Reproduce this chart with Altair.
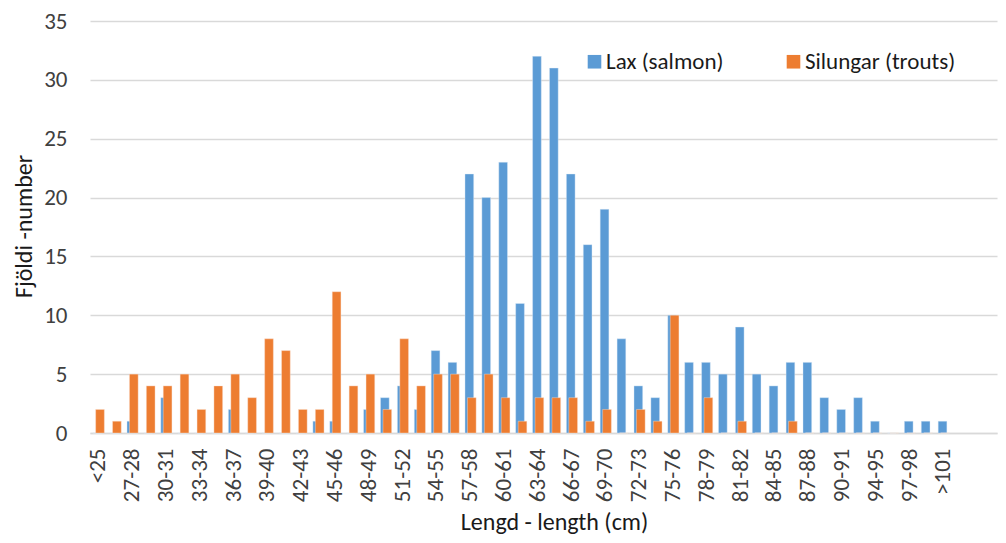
import altair as alt
import pandas as pd

categories = ["<25", "25-26", "27-28", "28-29", "30-31", "31-32", "33-34", "34-35",
              "36-37", "37-38", "39-40", "40-41", "42-43", "43-44", "45-46", "46-47",
              "48-49", "49-50", "51-52", "52-53", "54-55", "55-56", "57-58", "58-59",
              "60-61", "61-62", "63-64", "64-65", "66-67", "67-68", "69-70", "70-71",
              "72-73", "73-74", "75-76", "76-77", "78-79", "79-80", "81-82", "82-83",
              "84-85", "85-86", "87-88", "88-89", "90-91", "92-93", "94-95", "95-96",
              "97-98", "99-100", ">101"]
empty_slots = ["_e1", "_e2"]
shown_labels = categories[::2]

lax = [0, 0, 1, 0, 3, 0, 0, 0, 2, 0, 0, 0, 0, 1, 1, 0, 2, 3, 4, 2, 7, 6, 22, 20,
       23, 11, 32, 31, 22, 16, 19, 8, 4, 3, 10, 6, 6, 5, 9, 5, 4, 6, 6, 3, 2, 3,
       1, 0, 1, 1, 1]
silungar = [2, 1, 5, 4, 4, 5, 2, 4, 5, 3, 8, 7, 2, 2, 12, 4, 5, 2, 8, 4, 5, 5, 3, 5,
            3, 1, 3, 3, 3, 1, 2, 0, 2, 1, 10, 0, 3, 0, 1, 0, 0, 1, 0, 0, 0, 0,
            0, 0, 0, 0, 0]

series_names = ["Lax (salmon)", "Silungar (trouts)"]
series_colors = ["#5B9BD5", "#ED7D31"]

rows = []
for c, a, b in zip(categories, lax, silungar):
    rows.append({"cat": c, "series": series_names[0], "value": a})
    rows.append({"cat": c, "series": series_names[1], "value": b})
df = pd.DataFrame(rows)

FONT = "Carlito, Calibri, Lato, sans-serif"

x_enc = alt.X(
    "cat:N",
    sort=categories,
    scale=alt.Scale(domain=categories + empty_slots, paddingInner=0, paddingOuter=0.335,
                    align=0, round=False),
    axis=alt.Axis(
        values=shown_labels,
        labelAngle=-90,
        labelFontSize=23,
        labelFont=FONT,
        labelColor="#404040",
        labelPadding=15,
        ticks=False,
        domainColor="#D9D9D9",
        domainWidth=1.3,
        grid=False,
        title="Lengd - length (cm)",
        titleFont=FONT,
        titleFontSize=24,
        titleFontWeight="normal",
        titleColor="#1a1a1a",
        titleX=464,
        titleY=96,
        titleBaseline="alphabetic",
        titleAlign="center",
    ),
)
y_enc = alt.Y(
    "value:Q",
    scale=alt.Scale(domain=[0, 35], nice=False),
    axis=alt.Axis(
        values=[0, 5, 10, 15, 20, 25, 30, 35],
        labelFontSize=23,
        labelFont=FONT,
        labelColor="#404040",
        labelPadding=23,
        ticks=False,
        domain=False,
        gridColor="#D9D9D9",
        gridWidth=1.3,
        title="Fjöldi -number",
        titleFont=FONT,
        titleFontSize=24,
        titleFontWeight="normal",
        titleColor="#1a1a1a",
        titleAngle=270,
        titleX=-66,
        titleY=205,
        titleBaseline="middle",
        titleAlign="center",
    ),
)
color_enc = alt.Color(
    "series:N",
    scale=alt.Scale(domain=series_names, range=series_colors),
    legend=alt.Legend(
        title=None,
        orient="none",
        legendX=493,
        legendY=29,
        direction="horizontal",
        symbolType="square",
        symbolSize=185,
        symbolStrokeWidth=0,
        symbolOpacity=1,
        labelFont=FONT,
        labelFontSize=23,
        labelColor="#1a1a1a",
        labelOffset=0,
        columnPadding=58,
        padding=0,
    ),
)

base = alt.Chart(df).encode(x=x_enc, y=y_enc, color=color_enc)

blue = base.transform_filter(alt.datum.series == series_names[0]).mark_bar(
    size=8.7, xOffset=-0.9, stroke="#DDEBF7", strokeWidth=0.4
)
orange = base.transform_filter(alt.datum.series == series_names[1]).mark_bar(
    size=8.7, xOffset=1.55, stroke="#FBE3D6", strokeWidth=0.4
)

chart = (
    alt.layer(blue, orange)
    .properties(
        width=907,
        height=412,
        autosize=alt.AutoSizeParams(type="none"),
        padding={"left": 82, "top": 13, "right": 1, "bottom": 102},
    )
    .configure(background="white")
    .configure_view(stroke=None)
)

chart.save("out.html", embed_options={"renderer": "svg", "actions": False})
